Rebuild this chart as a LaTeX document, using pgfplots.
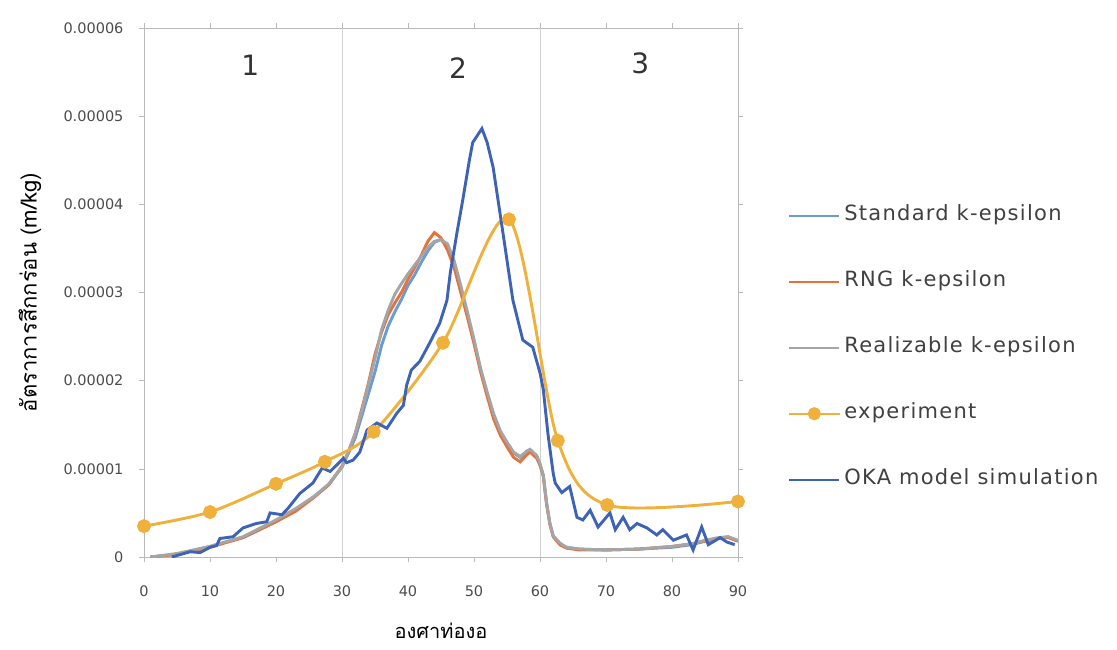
\documentclass[border=0pt]{standalone}
\usepackage{fontspec}
\setmainfont{DejaVu Sans}
\newfontfamily\thaifont[Script=Thai]{Loma}
\newfontfamily\legendfont[LetterSpace=6]{DejaVu Sans}
\usepackage{pgfplots}
\pgfplotsset{compat=1.18}
\definecolor{stdblue}{HTML}{6A9BD3}
\definecolor{rngorange}{HTML}{E8703A}
\definecolor{realgray}{HTML}{A5A5A5}
\definecolor{expgold}{HTML}{F0B03C}
\definecolor{okablue}{HTML}{3E62B6}
\pgfplotsset{
  legend image code/.code={\draw[mark repeat=2,mark phase=2,#1,line width=2.2pt] plot coordinates {(0pt,0pt) (25pt,0pt) (50pt,0pt)};}
}
\begin{document}
\begin{tikzpicture}
\useasboundingbox (-144pt,-92pt) rectangle (973pt,557pt);
\begin{axis}[
  scale only axis, width=594pt, height=529pt,
  xmin=0, xmax=90, ymin=0, ymax=6e-5,
  axis line style={gray!55, line width=0.6pt},
  xtick={0,10,...,90},
  ytick={0,1e-5,2e-5,3e-5,4e-5,5e-5,6e-5},
  yticklabels={0,0.00001,0.00002,0.00003,0.00004,0.00005,0.00006},
  scaled y ticks=false,
  /pgf/number format/assume math mode=true,
  tick align=outside, major tick length=5pt,
  tick style={gray!55, line width=0.6pt},
  extra x ticks={30,60}, extra x tick labels={},
  extra x tick style={grid=major, major grid style={gray!35, line width=0.6pt}},
  ticklabel style={font=\fontsize{14.5}{16}\selectfont, text=black!70},
  yticklabel style={xshift=-12pt},
  xticklabel style={yshift=-20pt},
  xlabel={\thaifont องศาท่องอ},
  ylabel={\thaifont อัตราการสึกกร่อน (m/kg)},
  xlabel style={at={(axis description cs:0.5,-0.155)}, anchor=base, inner sep=0pt, font=\fontsize{20}{22}\selectfont},
  ylabel style={at={(axis description cs:-0.192,0.5)}, anchor=center, inner sep=0pt, font=\fontsize{22}{24}\selectfont},
  legend style={draw=none, fill=none, at={(rel axis cs:1.0842,0.6635)}, anchor=north west,
    inner sep=0pt, row sep=47pt, column sep=4pt,
    nodes={text height=14pt, text depth=5pt, inner sep=0pt},
    font=\legendfont\fontsize{21}{23}\selectfont, text=black!75},
  legend cell align=left,
  every axis plot/.append style={line width=2.9pt},
]
\addplot[stdblue, mark=none] coordinates {
(1,0) (5,0.03e-5) (10,0.12e-5) (15,0.22e-5) (20,0.40e-5) (23,0.53e-5) (26,0.70e-5) (28,0.82e-5)
(30,1.02e-5) (31,1.18e-5) (32,1.35e-5) (33,1.60e-5) (34,1.85e-5) (35,2.10e-5) (36,2.40e-5)
(37,2.62e-5) (38,2.78e-5) (39,2.92e-5) (40,3.08e-5) (41,3.20e-5) (42,3.34e-5) (43,3.47e-5)
(44,3.57e-5) (45,3.60e-5) (46,3.52e-5) (47,3.30e-5) (48,3.02e-5) (49,2.75e-5) (50,2.45e-5)
(51,2.12e-5) (52,1.85e-5) (53,1.60e-5) (54,1.42e-5) (55,1.30e-5) (56,1.18e-5) (57,1.13e-5)
(58,1.20e-5) (58.5,1.22e-5) (59.5,1.14e-5) (60,1.05e-5) (60.5,0.92e-5) (61,0.60e-5)
(61.5,0.38e-5) (62,0.24e-5) (63,0.15e-5) (64,0.11e-5) (66,0.09e-5) (70,0.08e-5) (75,0.09e-5)
(80,0.11e-5) (83,0.14e-5) (85,0.18e-5) (87,0.21e-5) (88.5,0.23e-5) (90,0.18e-5)
};
\addlegendentry{Standard k-epsilon}
\addplot[rngorange, mark=none] coordinates {
(1,0) (5,0.03e-5) (10,0.11e-5) (15,0.22e-5) (20,0.40e-5) (23,0.52e-5) (26,0.69e-5) (28,0.82e-5)
(30,1.03e-5) (31,1.20e-5) (32,1.40e-5) (33,1.68e-5) (34,1.97e-5) (35,2.30e-5) (36,2.55e-5)
(37,2.75e-5) (38,2.88e-5) (39,3.00e-5) (40,3.15e-5) (41,3.28e-5) (42,3.42e-5) (43,3.58e-5)
(44,3.68e-5) (45,3.62e-5) (46,3.48e-5) (47,3.28e-5) (48,3.00e-5) (49,2.72e-5) (50,2.42e-5)
(51,2.10e-5) (52,1.82e-5) (53,1.56e-5) (54,1.38e-5) (55,1.25e-5) (56,1.13e-5) (57,1.08e-5)
(58,1.16e-5) (58.5,1.19e-5) (59.5,1.12e-5) (60,1.04e-5) (60.5,0.92e-5) (61,0.60e-5)
(61.5,0.37e-5) (62,0.23e-5) (63,0.14e-5) (64,0.10e-5) (66,0.08e-5) (70,0.08e-5) (75,0.09e-5)
(80,0.12e-5) (83,0.15e-5) (85,0.18e-5) (87,0.21e-5) (88.5,0.22e-5) (90,0.18e-5)
};
\addlegendentry{RNG k-epsilon}
\addplot[realgray, mark=none] coordinates {
(1,0) (5,0.04e-5) (10,0.12e-5) (15,0.23e-5) (20,0.42e-5) (23,0.55e-5) (26,0.70e-5) (28,0.83e-5)
(30,1.02e-5) (31,1.20e-5) (32,1.40e-5) (33,1.66e-5) (34,1.95e-5) (35,2.25e-5) (36,2.58e-5)
(37,2.80e-5) (38,2.98e-5) (39,3.10e-5) (40,3.21e-5) (41,3.31e-5) (42,3.41e-5) (43,3.51e-5)
(44,3.58e-5) (45,3.60e-5) (46,3.55e-5) (47,3.36e-5) (48,3.08e-5) (49,2.78e-5) (50,2.47e-5)
(51,2.14e-5) (52,1.87e-5) (53,1.62e-5) (54,1.43e-5) (55,1.30e-5) (56,1.19e-5) (57,1.14e-5)
(58,1.20e-5) (58.5,1.22e-5) (59.5,1.15e-5) (60,1.06e-5) (60.5,0.93e-5) (61,0.62e-5)
(61.5,0.38e-5) (62,0.24e-5) (63,0.16e-5) (64,0.11e-5) (66,0.09e-5) (70,0.08e-5) (75,0.09e-5)
(80,0.12e-5) (83,0.15e-5) (85,0.19e-5) (87,0.22e-5) (88.5,0.23e-5) (90,0.19e-5)
};
\addlegendentry{Realizable k-epsilon}
\addplot[expgold, smooth, mark=*, mark size=5.5pt, mark options={solid, fill=expgold, draw=none}] coordinates {
(0,3.5e-6) (10,5.1e-6) (20,8.3e-6) (27.4,10.8e-6) (34.8,14.2e-6) (45.3,24.3e-6)
(55.3,38.3e-6) (62.7,13.2e-6) (70.2,5.9e-6) (90,6.3e-6)
};
\addlegendentry{experiment}
\addplot[okablue, mark=none] coordinates {
(4.2,0) (7,0.06e-5) (8.5,0.05e-5) (10,0.11e-5) (11,0.13e-5) (11.5,0.21e-5) (13.5,0.23e-5)
(15,0.33e-5) (17,0.38e-5) (18.6,0.40e-5) (19.1,0.50e-5) (20.9,0.48e-5) (21.8,0.55e-5)
(23.6,0.72e-5) (25.6,0.84e-5) (27,1.01e-5) (28.2,0.97e-5) (29.7,1.08e-5) (30.2,1.12e-5)
(30.7,1.07e-5) (31.7,1.10e-5) (32.7,1.19e-5) (33.8,1.44e-5) (35.3,1.52e-5) (36.8,1.46e-5)
(38.3,1.63e-5) (39.3,1.72e-5) (39.8,1.95e-5) (40.5,2.12e-5) (41.8,2.22e-5) (43.3,2.43e-5)
(44.8,2.65e-5) (45.9,2.91e-5) (46.4,3.22e-5) (47.4,3.67e-5) (48.3,4.05e-5) (49.3,4.50e-5)
(49.8,4.70e-5) (50.5,4.78e-5) (51.2,4.86e-5) (52.0,4.70e-5) (52.9,4.42e-5) (54.4,3.67e-5)
(55.9,2.91e-5) (57.4,2.46e-5) (58.9,2.38e-5) (60.0,2.09e-5) (60.5,1.90e-5) (61.2,1.40e-5)
(62,0.95e-5) (62.3,0.84e-5) (63.3,0.73e-5) (64.5,0.80e-5) (65.6,0.45e-5) (66.5,0.42e-5)
(67.6,0.53e-5) (68.8,0.34e-5) (70.6,0.50e-5) (71.4,0.31e-5) (72.6,0.45e-5) (73.6,0.31e-5)
(74.7,0.38e-5) (76.2,0.33e-5) (77.7,0.25e-5) (78.6,0.31e-5) (80.2,0.19e-5) (82.2,0.25e-5)
(83.2,0.08e-5) (84.5,0.34e-5) (85.5,0.14e-5) (87.3,0.22e-5) (88.3,0.17e-5) (89.5,0.14e-5)
};
\addlegendentry{OKA model simulation}
\node[font=\fontsize{28}{30}\selectfont, text=black!80] at (axis cs:16.1,5.58e-5) {1};
\node[font=\fontsize{28}{30}\selectfont, text=black!80] at (axis cs:47.6,5.55e-5) {2};
\node[font=\fontsize{28}{30}\selectfont, text=black!80] at (axis cs:75.2,5.6e-5) {3};
\end{axis}
\end{tikzpicture}
\end{document}
